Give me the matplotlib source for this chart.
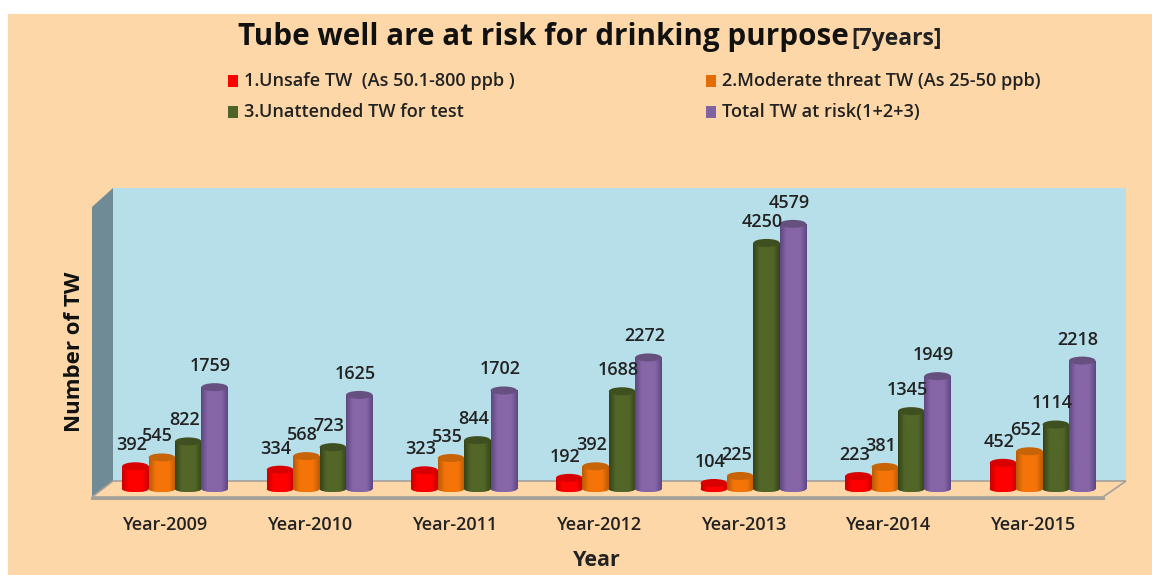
import numpy as np
import matplotlib
matplotlib.use('Agg')
import matplotlib.pyplot as plt
from matplotlib.patches import Ellipse, Polygon, Rectangle
from matplotlib.colors import LinearSegmentedColormap

years = ['Year-2009', 'Year-2010', 'Year-2011', 'Year-2012', 'Year-2013', 'Year-2014', 'Year-2015']
unsafe = [392, 334, 323, 192, 104, 223, 452]
moderate = [545, 568, 535, 392, 225, 381, 652]
unattended = [822, 723, 844, 1688, 4250, 1345, 1114]
total = [1759, 1625, 1702, 2272, 4579, 1949, 2218]

legend_labels = ['1.Unsafe TW  (As 50.1-800 ppb )', '2.Moderate threat TW (As 25-50 ppb)',
                 '3.Unattended TW for test', 'Total TW at risk(1+2+3)']
swatches = ['#ff0000', '#e36c09', '#4f6228', '#8064a2']
# edge, middle, top ellipse
bar_colors = [('#c80000', '#ff0000', '#d80000'),
              ('#b85a08', '#f57408', '#c86408'),
              ('#34431a', '#526628', '#3f5020'),
              ('#5d4780', '#8766a8', '#66507f')]

W, H = 1152, 575
plt.rcParams['font.family'] = ['Open Sans', 'DejaVu Sans']
fig = plt.figure(figsize=(W / 100, H / 100), dpi=100, facecolor='white')

# backdrop, in pixels
bg = fig.add_axes([0, 0, 1, 1])
bg.set_xlim(0, W)
bg.set_ylim(H, 0)
bg.axis('off')
bg.add_patch(Rectangle((8, 14), W - 8, H - 14, fc='#fdd7a7', ec='none'))
bg.add_patch(Rectangle((113, 188), 1013, 293, fc='#b7dfe9', ec='none'))
bg.add_patch(Polygon([[92, 207], [113, 188], [113, 481], [92, 497]], fc='#6f8c96', ec='none'))
bg.add_patch(Polygon([[92, 497], [113, 481], [1126, 481], [1103, 497]], fc='#fdd7a7', ec='#a5a09a', lw=1.2))
bg.plot([92, 1103], [497.5, 497.5], color='#a5a09a', lw=2.2)

bg.text(238, 37, 'Tube well are at risk for drinking purpose', fontsize=21.3, fontweight='bold',
        ha='left', va='center', color='#111111')
bg.text(851, 39, '[7years]', fontsize=16.5, fontweight='bold', ha='left', va='center', color='#222222')

leg_pos = [(228, 81), (706, 81), (228, 112), (706, 112)]
for (lx, ly), lab, c in zip(leg_pos, legend_labels, swatches):
    bg.add_patch(Rectangle((lx, ly - 6), 10, 12, fc=c, ec='none'))
    bg.text(lx + 16, ly, lab, fontsize=13.1, fontweight='semibold', ha='left', va='center', color='#222222')

bg.text(74, 352, 'Number of TW', fontsize=16, fontweight='bold', rotation=90, ha='center', va='center', color='#111111')
bg.text(597, 561, 'Year', fontsize=15.5, fontweight='bold', ha='center', va='center', color='#222222')

# bars
px_cat = 144.6
px_val = 0.0579
zero_px = 489
ax = fig.add_axes([92 / W, 1 - 497 / H, (1126 - 92) / W, (497 - 188) / H])
xlim = ((92 - 175) / px_cat, (1126 - 175) / px_cat)
ylim = ((zero_px - 497) / px_val, (zero_px - 188) / px_val)
ax.axis('off')
ax.patch.set_alpha(0)

series = [unsafe, moderate, unattended, total]
width = 26.4 / px_cat
top_h = 8 / px_val
base_h = 6 / px_val
x = np.arange(len(years))
grad = np.linspace(0, 1, 128).reshape(1, -1)

for s, (vals, cols) in enumerate(zip(series, bar_colors)):
    cmap = LinearSegmentedColormap.from_list('c', [(0, cols[0]), (0.25, cols[1]), (0.75, cols[1]), (1, cols[0])])
    for i, v in enumerate(vals):
        xc = x[i] + (s - 1.5) * width
        z = 3 + s
        bar = ax.bar(xc, v, width, color=cols[1], zorder=z)[0]
        base = Ellipse((xc, 0), width, base_h, fc=cols[1], ec='none', zorder=z)
        ax.add_patch(base)
        for clip in (bar, base):
            im = ax.imshow(grad, cmap=cmap, extent=(xc - width / 2, xc + width / 2, -base_h, v),
                           aspect='auto', zorder=z + 0.1)
            im.set_clip_path(clip)
        ax.add_patch(Ellipse((xc, v), width, top_h, fc=cols[2], ec='none', zorder=z + 0.2))
        ax.text(xc - 4 / px_cat, v + 21 / px_val, str(v), fontsize=13, fontweight='semibold',
                ha='center', va='center', color='#222222', zorder=20)

ax.set_xlim(*xlim)
ax.set_ylim(*ylim)

for i, y in enumerate(years):
    ax.text(x[i] - 10 / px_cat, (zero_px - 525) / px_val, y, fontsize=13, fontweight='semibold', ha='center',
            va='center', color='#222222', clip_on=False)

fig.savefig('out.png', dpi=100)
